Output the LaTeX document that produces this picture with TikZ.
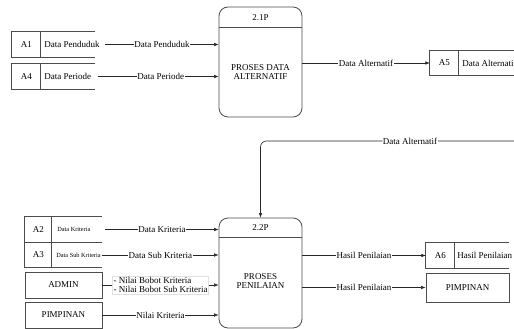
\documentclass[tikz,border=0pt]{standalone}
\usepackage{fontspec}
\setmainfont{Liberation Serif}
\newfontfamily\tnrfont{Liberation Serif}
\usetikzlibrary{arrows.meta}
\begin{document}
\begin{tikzpicture}[x=1pt,y=-1pt,
  font=\tnrfont\fontsize{9}{9.5}\selectfont,
  boxline/.style={draw=black!70,line width=0.8pt},
  proc/.style={boxline,rounded corners=9pt,minimum width=83pt,minimum height=110pt,inner sep=0pt},
  store/.style={minimum width=83pt,minimum height=25pt,inner sep=0pt},
  ext/.style={boxline,minimum width=77pt,minimum height=26pt,inner sep=0pt},
  flow/.style={draw=black!85,line width=0.6pt,-{Latex[length=4.5pt,width=3.5pt]}},
  lbl/.style={fill=white,inner sep=0.6pt},
  tiny/.style={font=\tnrfont\fontsize{6.3}{7}\selectfont}
]
\clip (0,0) rectangle (514,329);
\fill[white] (0,0) rectangle (514,329);

% processes
\node[proc] (p1) at (260.5,62) {};
\node[proc] (p2) at (260.5,273) {};
\draw[boxline] ([yshift=-21pt]p1.north west) -- ([yshift=-21pt]p1.north east);
\draw[boxline] ([yshift=-20pt]p2.north west) -- ([yshift=-20pt]p2.north east);
\node (p1id) at (260.5,17.5) {2.1P};
\node (p2id) at (260.5,228) {2.2P};
\node[align=center] (p1t) at (260.5,72) {PROSES DATA\\ALTERNATIF};
\node[align=center] (p2t) at (260.5,281) {PROSES\\PENILAIAN};

% data stores (open on the right)
\node[store] (a1) at (53.5,44.5) {};
\draw[boxline] (a1.north east) -- (a1.north west) -- (a1.south west) -- (a1.south east);
\draw[boxline] ([xshift=29pt]a1.north west) -- ([xshift=29pt]a1.south west);
\node (a1id) at ([xshift=14.5pt]a1.west) {A1};
\node[anchor=west] (a1t) at ([xshift=29pt]a1.west) {Data Penduduk};

\node[store] (a4) at (53.5,76.5) {};
\draw[boxline] (a4.north east) -- (a4.north west) -- (a4.south west) -- (a4.south east);
\draw[boxline] ([xshift=29pt]a4.north west) -- ([xshift=29pt]a4.south west);
\node (a4id) at ([xshift=14.5pt]a4.west) {A4};
\node[anchor=west] (a4t) at ([xshift=29pt]a4.west) {Data Periode};

\node[store,minimum width=100pt] (a5) at (480,63) {};
\draw[boxline] (a5.north east) -- (a5.north west) -- (a5.south west) -- (a5.south east);
\draw[boxline] ([xshift=29pt]a5.north west) -- ([xshift=29pt]a5.south west);
\node (a5id) at ([xshift=14.5pt]a5.west) {A5};
\node[anchor=west] (a5t) at ([xshift=29pt]a5.west) {Data Alternatif};

\node[store,minimum width=77pt] (a2) at (63.5,229.5) {};
\draw[boxline] (a2.north east) -- (a2.north west) -- (a2.south west) -- (a2.south east);
\draw[boxline] ([xshift=27pt]a2.north west) -- ([xshift=27pt]a2.south west);
\node (a2id) at ([xshift=13.5pt]a2.west) {A2};
\node[anchor=west,tiny] (a2t) at ([xshift=29pt]a2.west) {Data Kriteria};

\node[store,minimum width=77pt,minimum height=24pt] (a3) at (63.5,255) {};
\draw[boxline] (a3.north east) -- (a3.north west) -- (a3.south west) -- (a3.south east);
\draw[boxline] ([xshift=27pt]a3.north west) -- ([xshift=27pt]a3.south west);
\node (a3id) at ([xshift=13.5pt]a3.west) {A3};
\node[anchor=west,tiny] (a3t) at ([xshift=28pt]a3.west) {Data Sub Kriteria};

\node[store,minimum width=83pt] (a6) at (467.5,255.5) {};
\draw[boxline] (a6.north east) -- (a6.north west) -- (a6.south west) -- (a6.south east);
\draw[boxline] ([xshift=29pt]a6.north west) -- ([xshift=29pt]a6.south west);
\node (a6id) at ([xshift=14.5pt]a6.west) {A6};
\node[anchor=west] (a6t) at ([xshift=28pt]a6.west) {Hasil Penilaian};

% external entities
\node[ext] (admin) at (63.5,285) {ADMIN};
\node[ext] (pim1) at (63.5,315) {PIMPINAN};
\node[ext,minimum width=83pt,minimum height=29pt] (pim2) at (467.5,287.5) {PIMPINAN};

% flows into 2.1P
\draw[flow] ([xshift=10pt]a1.east) -- (p1.west |- a1.east) node[lbl,pos=0.5] {Data Penduduk};
\draw[flow] ([xshift=3pt]a4.east) -- (p1.west |- a4.east) node[lbl,pos=0.52] {Data Periode};
\draw[flow] (p1.east |- a5.west) -- (a5.west) node[lbl,pos=0.5] {Data Alternatif};

% feedback Data Alternatif
\coordinate (fb) at (514,141);
\draw[flow,rounded corners=6pt] (fb) -- (p2.north |- fb) node[lbl,pos=0.41] {Data Alternatif} -- (p2.north);

% flows into 2.2P
\draw[flow] ([xshift=3pt]a2.east) -- (p2.west |- a2.east) node[lbl,pos=0.5] {Data Kriteria};
\draw[flow] (a3.east) -- (p2.west |- a3.east) node[lbl,pos=0.5] {Data Sub Kriteria};
\draw[flow] (admin.east) -- (p2.west |- admin.east) node[lbl,pos=0.5,align=left,draw=black!12,inner sep=1.2pt] {- Nilai Bobot Kriteria\\- Nilai Bobot Sub Kriteria};
\draw[flow] (pim1.east) -- (p2.west |- pim1.east) node[lbl,pos=0.5] {Nilai Kriteria};

% flows out of 2.2P
\draw[flow] (p2.east |- a6.west) -- (a6.west) node[lbl,pos=0.5] {Hasil Penilaian};
\draw[flow] (p2.east |- pim2.west) -- (pim2.west) node[lbl,pos=0.5] {Hasil Penilaian};
\end{tikzpicture}
\end{document}
